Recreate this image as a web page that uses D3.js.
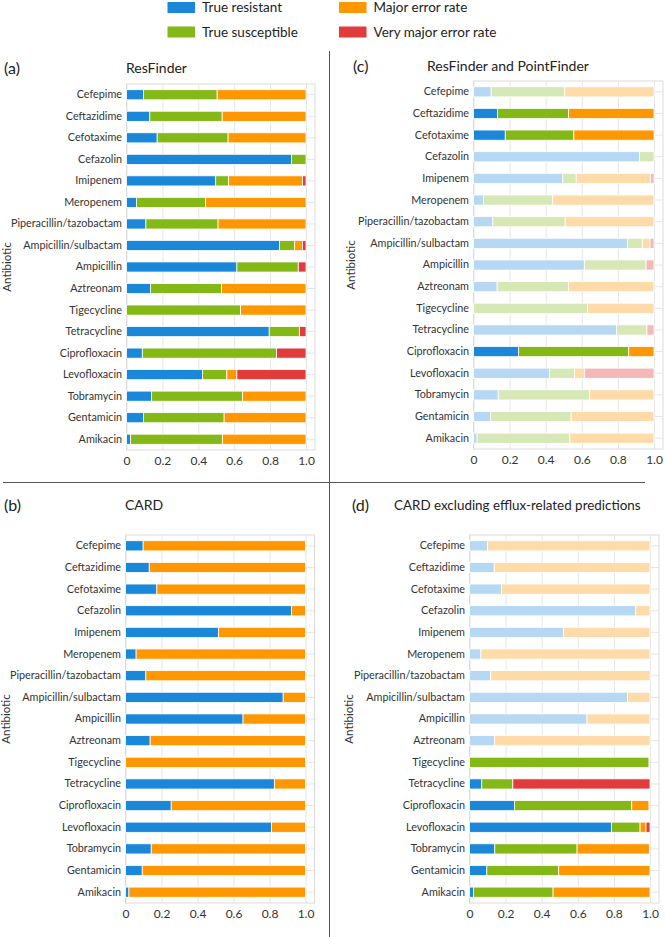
<!DOCTYPE html>
<html><head><meta charset="utf-8">
<script src="https://cdn.jsdelivr.net/npm/d3@7"></script>
<style>
body{margin:0;background:#fff}
svg{display:block}
text{font-family:Lato,"Open Sans",sans-serif;fill:#333}
</style>
</head><body>
<svg id="chart" width="665" height="937"></svg>
<script>
const antibiotics = ["Cefepime","Ceftazidime","Cefotaxime","Cefazolin","Imipenem","Meropenem","Piperacillin/tazobactam","Ampicillin/sulbactam","Ampicillin","Aztreonam","Tigecycline","Tetracycline","Ciprofloxacin","Levofloxacin","Tobramycin","Gentamicin","Amikacin"];
const seriesNames = ["True resistant","True susceptible","Major error rate","Very major error rate"];
const seriesColors = ["#1a87d8","#83b817","#ff9800","#e23b3b"];
const fadedColors = ["#b6d8f3","#d6e8b5","#ffdba9","#f5b8b9"];
const xTicks = [0,0.2,0.4,0.6,0.8,1.0];

// (a) ResFinder
const resTR  = [0.095,0.13,0.171,0.92,0.497,0.056,0.108,0.853,0.615,0.134,0,0.795,0.088,0.423,0.14,0.095,0.022];
const resTS  = [0.41,0.403,0.395,0.08,0.071,0.385,0.402,0.084,0.342,0.395,0.635,0.168,0.748,0.136,0.506,0.449,0.512];
const resME  = [0.495,0.467,0.434,0,0.413,0.559,0.49,0.043,0,0.471,0.365,0,0,0.056,0.354,0.456,0.466];
const resVME = [0,0,0,0,0.019,0,0,0.02,0.043,0,0,0.037,0.164,0.385,0,0,0];
const resHighlight = antibiotics;

// (c) ResFinder and PointFinder
const rpTR  = [0.098,0.133,0.176,0.919,0.495,0.055,0.107,0.854,0.614,0.131,0,0.793,0.25,0.421,0.137,0.094,0.02];
const rpTS  = [0.408,0.394,0.38,0.081,0.074,0.383,0.401,0.081,0.342,0.396,0.632,0.168,0.61,0.139,0.506,0.447,0.514];
const rpME  = [0.494,0.473,0.444,0,0.411,0.562,0.492,0.043,0,0.473,0.368,0,0.14,0.056,0.357,0.459,0.466];
const rpVME = [0,0,0,0,0.02,0,0,0.022,0.044,0,0,0.039,0,0.384,0,0,0];
const rpHighlight = ["Ceftazidime","Cefotaxime","Ciprofloxacin"];

// (b) CARD
const cardTR  = [0.098,0.132,0.174,0.922,0.516,0.059,0.113,0.876,0.653,0.137,0,0.827,0.254,0.811,0.143,0.093,0.019];
const cardTS  = [0,0,0,0,0,0,0,0,0,0,0,0,0,0,0,0,0];
const cardME  = [0.902,0.868,0.826,0.078,0.484,0.941,0.887,0.124,0.347,0.863,1,0.173,0.746,0.189,0.857,0.907,0.981];
const cardVME = [0,0,0,0,0,0,0,0,0,0,0,0,0,0,0,0,0];
const cardHighlight = antibiotics;

// (d) CARD excluding efflux-related predictions
const effTR  = [0.1,0.137,0.177,0.921,0.52,0.063,0.116,0.876,0.651,0.138,0,0.068,0.249,0.786,0.14,0.096,0.022];
const effTS  = [0,0,0,0,0,0,0,0,0,0,0.994,0.172,0.65,0.159,0.456,0.398,0.441];
const effME  = [0.9,0.863,0.823,0.079,0.48,0.937,0.884,0.124,0.349,0.862,0,0,0.095,0.033,0.4,0.506,0.537];
const effVME = [0,0,0,0,0,0,0,0,0,0,0,0.76,0,0.022,0,0,0];
const effHighlight = ["Tigecycline","Tetracycline","Ciprofloxacin","Levofloxacin","Tobramycin","Gentamicin","Amikacin"];

const svg = d3.select("#chart");
const FONT = "Lato, 'Open Sans', sans-serif";

// Legend
const legendLayout = [{n:seriesNames[0],c:seriesColors[0],x:167.5,y:2},{n:seriesNames[1],c:seriesColors[1],x:167.5,y:26.5},
                      {n:seriesNames[2],c:seriesColors[2],x:339,y:2},{n:seriesNames[3],c:seriesColors[3],x:339,y:26.5}];
const lg = svg.append("g");
legendLayout.forEach(d=>{
  lg.append("rect").attr("x",d.x).attr("y",d.y).attr("width",27.5).attr("height",11).attr("fill",d.c);
  lg.append("text").attr("x",d.x+34.5).attr("y",d.y+5.5).attr("dy","0.35em").attr("font-size",13.5).style("fill","#222").text(d.n);
});

// dividers
svg.append("line").attr("x1",329.5).attr("x2",329.5).attr("y1",51).attr("y2",937).attr("stroke","#555").attr("stroke-width",1);
svg.append("line").attr("x1",3).attr("x2",329.5).attr("y1",482.5).attr("y2",482.5).attr("stroke","#555").attr("stroke-width",1);
svg.append("line").attr("x1",329.5).attr("x2",645).attr("y1",482.5).attr("y2",482.5).attr("stroke","#555").attr("stroke-width",1);

const panels = [
  {tag:"(a)", title:"ResFinder", tagX:4, titleX:126, headY:68, titleSize:14, left:126.5, one:306, top:84, bottom:450, labX:7,
   TR:resTR, TS:resTS, ME:resME, VME:resVME, hl:resHighlight},
  {tag:"(c)", title:"ResFinder and PointFinder", tagX:353, titleX:427, headY:66, titleSize:14, left:473.5, one:654, top:81, bottom:449, labX:351,
   TR:rpTR, TS:rpTS, ME:rpME, VME:rpVME, hl:rpHighlight},
  {tag:"(b)", title:"CARD", tagX:4, titleX:125, headY:505, titleSize:14, left:125.5, one:305.5, top:535, bottom:903, labX:6,
   TR:cardTR, TS:cardTS, ME:cardME, VME:cardVME, hl:cardHighlight},
  {tag:"(d)", title:"CARD excluding efflux-related predictions", tagX:352, titleX:394, headY:505, titleSize:13.4, left:469.5, one:650, top:535, bottom:903, labX:349,
   TR:effTR, TS:effTS, ME:effME, VME:effVME, hl:effHighlight}
];

const keys = ["TR","TS","ME","VME"];

panels.forEach(p=>{
  const g = svg.append("g");
  const right = p.left + 1.05*(p.one - p.left);
  const x = d3.scaleLinear().domain([0,1.05]).range([p.left, right]);
  const y = d3.scaleBand().domain(antibiotics).range([p.top,p.bottom]).paddingInner(0.53).paddingOuter(0.265);

  // headers
  g.append("text").attr("x",p.tagX).attr("y",p.headY).attr("dy","0.35em").attr("font-size",16).style("fill","#222").text(p.tag);
  g.append("text").attr("x",p.titleX).attr("y",p.headY).attr("dy","0.35em").attr("font-size",p.titleSize).style("fill","#222").text(p.title);

  // vertical grid
  g.append("g").attr("transform",`translate(0,${p.bottom})`)
    .call(d3.axisBottom(x).tickValues(xTicks).tickSize(-(p.bottom-p.top)).tickFormat(""))
    .call(s=>{s.select(".domain").remove(); s.selectAll("line").attr("stroke","#e6e6e6");});
  // horizontal grid
  g.append("g").attr("transform",`translate(${p.left},0)`)
    .call(d3.axisLeft(y).tickSize(-(right-p.left)).tickFormat(""))
    .call(s=>{s.select(".domain").remove(); s.selectAll("line").attr("stroke","#e6e6e6");});
  // frame
  g.append("rect").attr("x",p.left).attr("y",p.top).attr("width",right-p.left).attr("height",p.bottom-p.top)
    .attr("fill","none").attr("stroke","#dcdcdc");

  // stacked data
  const rows = antibiotics.map((a,i)=>({name:a, TR:p.TR[i], TS:p.TS[i], ME:p.ME[i], VME:p.VME[i]}));
  const stacked = d3.stack().keys(keys)(rows);
  stacked.forEach((layer,k)=>{
    g.append("g").selectAll("rect").data(layer).join("rect")
      .attr("x",d=>x(d[0]))
      .attr("y",d=>y(d.data.name))
      .attr("width",d=>Math.max(0,x(d[1])-x(d[0])))
      .attr("height",y.bandwidth())
      .attr("fill",d=>p.hl.includes(d.data.name)?seriesColors[k]:fadedColors[k])
      .attr("stroke","#fff").attr("stroke-width",0.8)
      .attr("display",d=>(d[1]-d[0])>0?null:"none");
  });

  // y labels
  g.append("g").attr("transform",`translate(${p.left},0)`)
    .call(d3.axisLeft(y).tickSize(0).tickPadding(4.5))
    .call(s=>{s.select(".domain").remove(); s.selectAll("text").attr("font-size",10.8).style("fill","#333").style("font-family",FONT);});
  // x labels
  g.append("g").attr("transform",`translate(0,${p.bottom})`)
    .call(d3.axisBottom(x).tickValues(xTicks).tickSize(0).tickPadding(6).tickFormat(d=>d===0?"0":d3.format(".1f")(d)))
    .call(s=>{s.select(".domain").remove(); s.selectAll("text").attr("font-size",12).style("fill","#333").style("font-family",FONT);});

  // axis title
  g.append("text").attr("transform",`translate(${p.labX},${(p.top+p.bottom)/2}) rotate(-90)`)
    .attr("text-anchor","middle").attr("dy","0.35em").attr("font-size",11.5).style("fill","#333").text("Antibiotic");
});
</script>
</body></html>
